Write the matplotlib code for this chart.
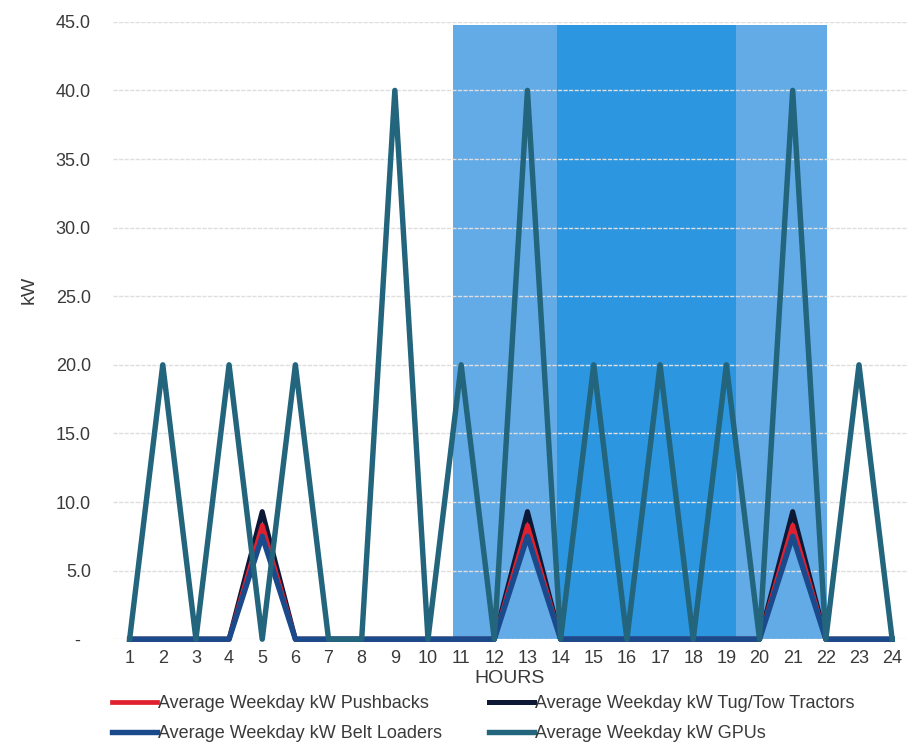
import matplotlib
matplotlib.use("Agg")
import matplotlib.pyplot as plt
from matplotlib.ticker import FuncFormatter

plt.rcParams['font.family'] = ['Liberation Sans', 'DejaVu Sans']

hours = list(range(1, 25))
pushbacks = [0, 0, 0, 0, 8.3, 0, 0, 0, 0, 0, 0, 0, 8.3, 0, 0, 0, 0, 0, 0, 0, 8.3, 0, 0, 0]
tug_tow = [0, 0, 0, 0, 9.3, 0, 0, 0, 0, 0, 0, 0, 9.3, 0, 0, 0, 0, 0, 0, 0, 9.3, 0, 0, 0]
belt_loaders = [0, 0, 0, 0, 7.5, 0, 0, 0, 0, 0, 0, 0, 7.5, 0, 0, 0, 0, 0, 0, 0, 7.5, 0, 0, 0]
gpus = [0, 20, 0, 20, 0, 20, 0, 0, 40, 0, 20, 0, 40, 0, 20, 0, 20, 0, 20, 0, 40, 0, 20, 0]

# shaded periods (hour ranges)
peak_window = (10.75, 22.05)
core_window = (13.9, 19.3)

fig = plt.figure(figsize=(9.19, 7.52), dpi=100)
fig.set_facecolor('w')
ax = fig.add_axes([0.123, 0.150, 0.864, 0.821])

ax.axvspan(*peak_window, ymin=0, ymax=44.75 / 45, color='#62abe6', lw=0, zorder=0)
ax.axvspan(*core_window, ymin=0, ymax=44.75 / 45, color='#2c96e0', lw=0, zorder=0.5)

l_tug, = ax.plot(hours, tug_tow, color='#0c1836', lw=3.6, zorder=3, clip_on=False,
                 label='Average Weekday kW Tug/Tow Tractors')
l_push, = ax.plot(hours, pushbacks, color='#e0202e', lw=3.4, zorder=4, clip_on=False,
                  label='Average Weekday kW Pushbacks')
l_belt, = ax.plot(hours, belt_loaders, color='#1b4a8c', lw=3.9, zorder=5, clip_on=False,
                  label='Average Weekday kW Belt Loaders')
l_gpu, = ax.plot(hours, gpus, color='#22657c', lw=3.9, zorder=6, clip_on=False,
                 label='Average Weekday kW GPUs')

ax.set_xlim(0.5, 24.45)
ax.set_ylim(0, 45)
ax.set_xticks(hours)
ax.set_yticks([0, 5, 10, 15, 20, 25, 30, 35, 40, 45])
ax.yaxis.set_major_formatter(FuncFormatter(lambda v, p: '-  ' if v == 0 else '%.1f' % v))
ax.tick_params(axis='both', length=0, labelsize=13, colors='#3a3a3a')
ax.tick_params(axis='y', pad=16)
ax.tick_params(axis='x', pad=8)

ax.grid(axis='y', color='#dedede', lw=1.0, ls=(0, (3, 1)), zorder=1)
ax.set_axisbelow(False)
for s in ax.spines.values():
    s.set_visible(False)

ax.set_xlabel('HOURS', fontsize=14, color='#3a3a3a', labelpad=2)
ax.set_ylabel('kW', fontsize=14, color='#3a3a3a')
ax.yaxis.set_label_coords(-0.095, 0.565)

fig.legend(handles=[l_push, l_belt, l_tug, l_gpu], ncol=2, frameon=False,
           loc='upper left', bbox_to_anchor=(0.112, 0.088), borderpad=0,
           fontsize=13, handlelength=2.5, handletextpad=0.05,
           columnspacing=2.6, labelspacing=0.75, labelcolor='#3a3a3a')

fig.savefig('out.png', dpi=100)
